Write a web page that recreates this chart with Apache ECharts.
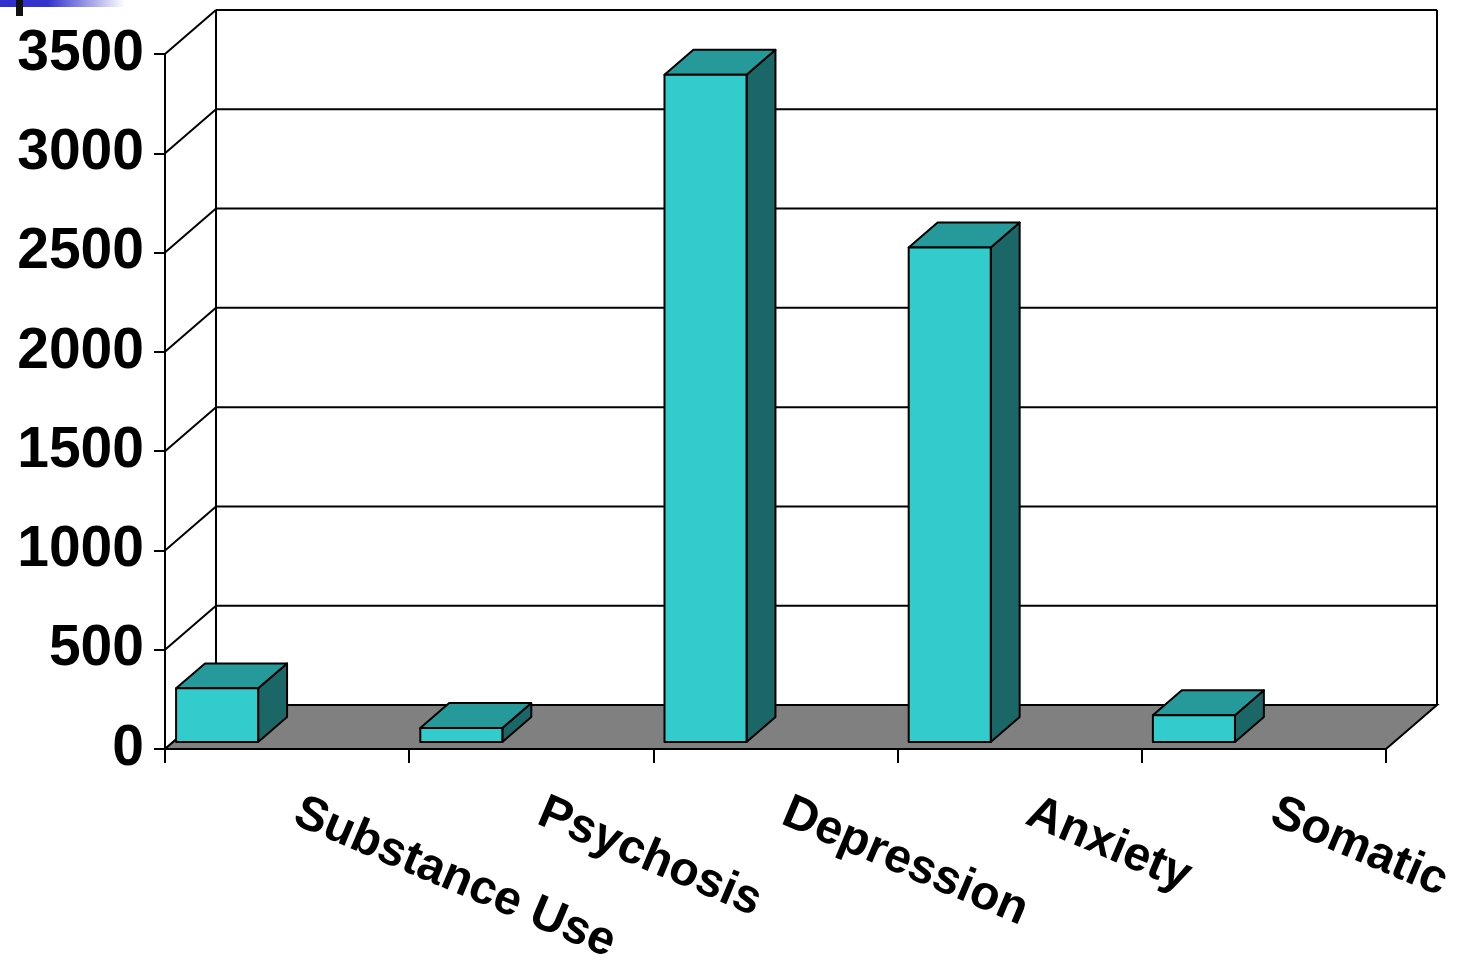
<!DOCTYPE html>
<html>
<head>
<meta charset="utf-8">
<style>
  html, body { margin: 0; padding: 0; background: #fff; }
  #chart { width: 1464px; height: 961px; }
</style>
<script src="https://cdn.jsdelivr.net/npm/echarts@6/dist/echarts.min.js"></script>
</head>
<body>
<div id="chart"></div>
<script>
const categories = ['Substance Use', 'Psychosis', 'Depression', 'Anxiety', 'Somatic'];
const values = [270, 70, 3360, 2490, 135];
const yTicks = [0, 500, 1000, 1500, 2000, 2500, 3000, 3500];

// depth of the 3d box (pixels from front plane to back wall)
const DX = 51, DY = -44;
// bar placement inside the depth and inside its category slot
const D0 = 0.16, D1 = 0.727;
const BAR_OFF = 0.012, BAR_W = 0.336;

const chart = echarts.init(document.getElementById('chart'));
const line = { stroke: '#000', lineWidth: 2 };

function renderWall(params, api) {
  const cs = params.coordSys;
  const y = api.coord([0, api.value(1)])[1];
  const x0 = cs.x, x1 = cs.x + cs.width;
  return {
    type: 'group',
    children: [
      { type: 'line', shape: { x1: x0, y1: y, x2: x0 + DX, y2: y + DY }, style: line },
      { type: 'line', shape: { x1: x0 + DX, y1: y + DY, x2: x1 + DX, y2: y + DY }, style: line }
    ]
  };
}

function renderFloor(params, api) {
  const cs = params.coordSys;
  const y0 = api.coord([0, 0])[1];
  const yTop = api.coord([0, yTicks[yTicks.length - 1]])[1];
  const x0 = cs.x, x1 = cs.x + cs.width;
  return {
    type: 'group',
    children: [
      { type: 'line', shape: { x1: x0 + DX, y1: yTop + DY, x2: x0 + DX, y2: y0 + DY }, style: line },
      { type: 'line', shape: { x1: x1 + DX, y1: yTop + DY, x2: x1 + DX, y2: y0 + DY }, style: line },
      {
        type: 'polygon',
        shape: { points: [[x0, y0], [x1, y0], [x1 + DX, y0 + DY], [x0 + DX, y0 + DY]] },
        style: { fill: '#808080', stroke: '#000', lineWidth: 2 }
      }
    ]
  };
}

function renderBar(params, api) {
  const idx = api.value(0);
  const bw = api.size([1, 0])[0];
  const base = api.coord([idx, 0]);
  const top = api.coord([idx, api.value(1)]);
  const L = base[0] - bw / 2 + BAR_OFF * bw + D0 * DX;
  const W = BAR_W * bw;
  const yb = base[1] + D0 * DY;
  const yt = top[1] + D0 * DY;
  const ddx = (D1 - D0) * DX, ddy = (D1 - D0) * DY;
  const st = { stroke: '#000', lineWidth: 2, lineJoin: 'round' };
  return {
    type: 'group',
    children: [
      { type: 'polygon', shape: { points: [[L + W, yt], [L + W + ddx, yt + ddy], [L + W + ddx, yb + ddy], [L + W, yb]] },
        style: Object.assign({ fill: '#1B6767' }, st) },
      { type: 'polygon', shape: { points: [[L, yt], [L + W, yt], [L + W + ddx, yt + ddy], [L + ddx, yt + ddy]] },
        style: Object.assign({ fill: '#269A9A' }, st) },
      { type: 'rect', shape: { x: L, y: yt, width: W, height: yb - yt },
        style: Object.assign({ fill: '#33CCCC' }, st) }
    ]
  };
}

const option = {
  backgroundColor: '#fff',
  animation: false,
  textStyle: { fontFamily: 'Liberation Sans' },
  graphic: [
    {
      type: 'rect', left: 0, top: 0, shape: { width: 125, height: 7 },
      style: {
        fill: new echarts.graphic.LinearGradient(0, 0, 1, 0, [
          { offset: 0, color: '#3030CC' },
          { offset: 0.38, color: '#3333CC' },
          { offset: 1, color: '#FFFFFF' }
        ])
      }
    },
    { type: 'rect', left: 16, top: 0, shape: { width: 7, height: 16 }, style: { fill: '#111' } }
  ],
  grid: { left: 165, top: 54, width: 1221, height: 695, containLabel: false, outerBoundsMode: 'none' },
  xAxis: {
    type: 'category',
    data: categories,
    boundaryGap: true,
    axisLine: { show: true, lineStyle: { color: '#000', width: 2 } },
    axisTick: { show: true, length: 14, interval: 0, lineStyle: { color: '#000', width: 2 } },
    axisLabel: {
      interval: 0,
      rotate: -23,
      margin: 58,
      padding: [0, 0, 0, 10],
      color: '#000',
      fontSize: 48,
      fontWeight: 'bold',
      fontFamily: 'Liberation Sans'
    },
    splitLine: { show: false }
  },
  yAxis: {
    type: 'value',
    min: 0,
    max: 3500,
    interval: 500,
    axisLine: { show: true, lineStyle: { color: '#000', width: 2 } },
    axisTick: { show: true, length: 11, lineStyle: { color: '#000', width: 2 } },
    axisLabel: {
      margin: 21,
      color: '#000',
      fontSize: 57,
      fontWeight: 'bold',
      fontFamily: 'Liberation Sans',
      formatter: v => String(v)
    },
    splitLine: { show: false }
  },
  series: [
    {
      type: 'custom',
      name: 'wall',
      z: 1,
      silent: true,
      renderItem: renderWall,
      encode: { x: 0, y: 1 },
      data: yTicks.map(v => [0, v])
    },
    {
      type: 'custom',
      name: 'floor',
      z: 2,
      silent: true,
      renderItem: renderFloor,
      encode: { x: 0, y: 1 },
      data: [[0, 0]]
    },
    {
      type: 'custom',
      name: 'bars',
      z: 3,
      renderItem: renderBar,
      encode: { x: 0, y: 1 },
      data: values.map((v, i) => [i, v])
    }
  ]
};

chart.setOption(option);
</script>
</body>
</html>
